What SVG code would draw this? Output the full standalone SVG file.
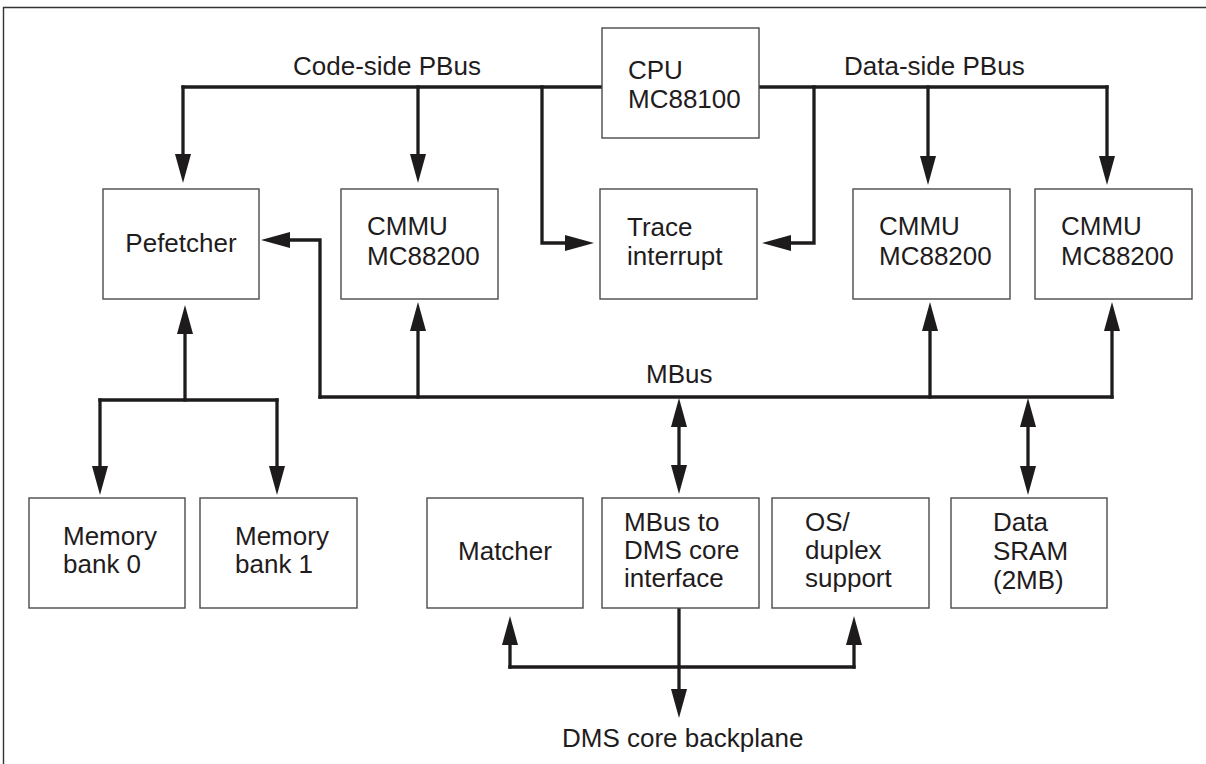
<svg xmlns="http://www.w3.org/2000/svg" width="1206" height="764" viewBox="0 0 1206 764">
<style>
  .box { fill: #ffffff; stroke: #4a4a4a; stroke-width: 1.4; }
  .t { font-family: "Liberation Sans", Arial, sans-serif; font-size: 26px; fill: #1f1c1d; }
  .c { text-anchor: middle; }
  .w { fill: none; stroke: #1e1b1c; stroke-width: 3.3; stroke-linejoin: miter; stroke-linecap: square; }
  .a { marker-end: url(#ah); }
  .d { marker-end: url(#ah); marker-start: url(#ah); }
</style>
<defs>
  <marker id="ah" markerUnits="userSpaceOnUse" markerWidth="29" markerHeight="16" refX="19" refY="8" orient="auto-start-reverse">
    <path d="M0,0 L29,8 L0,16 z" fill="#1e1b1c"/>
  </marker>
</defs>
<rect width="1206" height="764" fill="#ffffff"/>
<path d="M3.5,764 V7.5 H1206" fill="none" stroke="#333" stroke-width="1.4"/>

<g id="connectors">
  <!-- Code-side PBus -->
  <path class="w" d="M602,87 H183"/>
  <path class="w a" d="M183,87 V173"/>
  <path class="w a" d="M418,87 V173"/>
  <path class="w a" d="M542,87 V243 H584"/>
  <!-- Data-side PBus -->
  <path class="w" d="M759,87 H1107"/>
  <path class="w a" d="M814,87 V243 H772"/>
  <path class="w a" d="M928,87 V175"/>
  <path class="w a" d="M1107,87 V175"/>
  <!-- MBus -->
  <path class="w" d="M320,397 H1112"/>
  <path class="w a" d="M320,397 V240 H271"/>
  <path class="w a" d="M418,397 V312"/>
  <path class="w a" d="M930,397 V312"/>
  <path class="w a" d="M1112,397 V312"/>
  <path class="w d" d="M679,408 V484"/>
  <path class="w d" d="M1028,408 V485"/>
  <!-- Prefetcher to memory -->
  <path class="w a" d="M185,400 V315"/>
  <path class="w" d="M100,400 H277"/>
  <path class="w a" d="M100,400 V485"/>
  <path class="w a" d="M277,400 V485"/>
  <!-- DMS core backplane -->
  <path class="w a" d="M679,608 V708"/>
  <path class="w a" d="M510,667 V626"/>
  <path class="w a" d="M854,667 V626"/>
  <path class="w" d="M510,667 H854"/>
</g>

<g id="labels">
  <text class="t" x="293" y="75">Code-side PBus</text>
  <text class="t" x="844" y="75">Data-side PBus</text>
  <text class="t" x="646" y="383">MBus</text>
  <text class="t" x="562" y="747">DMS core backplane</text>
</g>

<g id="cpu">
  <rect class="box" x="602" y="28" width="157" height="110"/>
  <text class="t" x="628" y="79">CPU</text>
  <text class="t" x="628" y="108">MC88100</text>
</g>
<g id="prefetcher">
  <rect class="box" x="103" y="189" width="156" height="110"/>
  <text class="t c" x="181" y="252">Pefetcher</text>
</g>
<g id="cmmu1">
  <rect class="box" x="341" y="189" width="157" height="110"/>
  <text class="t" x="367" y="235">CMMU</text>
  <text class="t" x="367" y="265">MC88200</text>
</g>
<g id="trace">
  <rect class="box" x="600" y="189" width="157" height="110"/>
  <text class="t" x="627" y="236">Trace</text>
  <text class="t" x="627" y="265">interrupt</text>
</g>
<g id="cmmu2">
  <rect class="box" x="853" y="189" width="157" height="110"/>
  <text class="t" x="879" y="235">CMMU</text>
  <text class="t" x="879" y="265">MC88200</text>
</g>
<g id="cmmu3">
  <rect class="box" x="1035" y="189" width="157" height="110"/>
  <text class="t" x="1061" y="235">CMMU</text>
  <text class="t" x="1061" y="265">MC88200</text>
</g>
<g id="membank0">
  <rect class="box" x="29" y="498" width="156" height="110"/>
  <text class="t" x="63" y="545">Memory</text>
  <text class="t" x="63" y="573">bank 0</text>
</g>
<g id="membank1">
  <rect class="box" x="200" y="498" width="157" height="110"/>
  <text class="t" x="235" y="545">Memory</text>
  <text class="t" x="235" y="573">bank 1</text>
</g>
<g id="matcher">
  <rect class="box" x="427" y="498" width="156" height="110"/>
  <text class="t c" x="505" y="560">Matcher</text>
</g>
<g id="mbus-dms">
  <rect class="box" x="602" y="498" width="157" height="110"/>
  <text class="t" x="624" y="531">MBus to</text>
  <text class="t" x="624" y="559">DMS core</text>
  <text class="t" x="624" y="587">interface</text>
</g>
<g id="os-duplex">
  <rect class="box" x="772" y="498" width="157" height="110"/>
  <text class="t" x="805" y="531">OS/</text>
  <text class="t" x="805" y="559">duplex</text>
  <text class="t" x="805" y="587">support</text>
</g>
<g id="sram">
  <rect class="box" x="951" y="498" width="156" height="110"/>
  <text class="t" x="993" y="531">Data</text>
  <text class="t" x="993" y="560">SRAM</text>
  <text class="t" x="993" y="589">(2MB)</text>
</g>
</svg>
